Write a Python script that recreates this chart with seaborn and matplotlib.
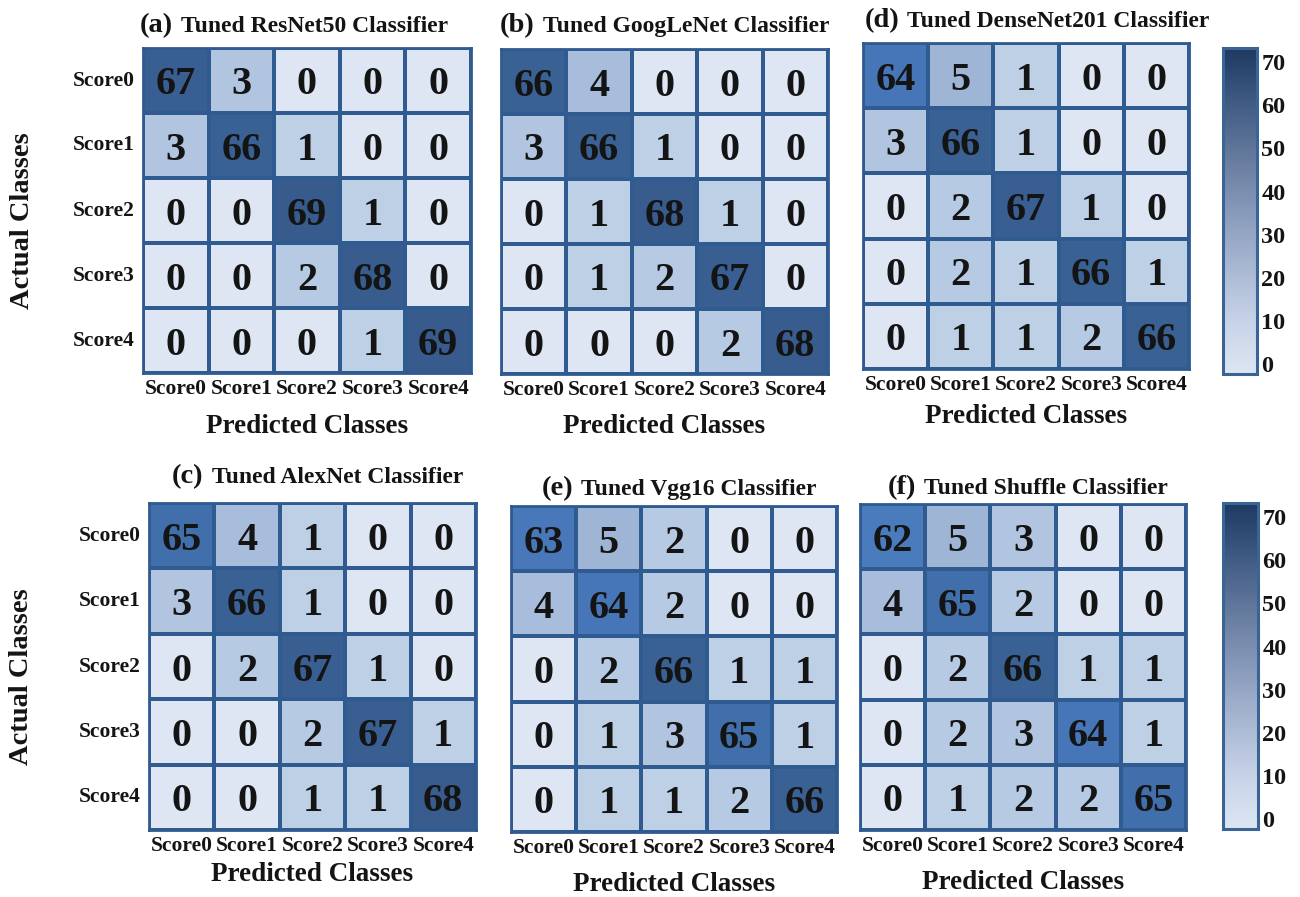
import numpy as np
import pandas as pd
import matplotlib
matplotlib.use("Agg")
import matplotlib.pyplot as plt
import seaborn as sns
from matplotlib.colors import LinearSegmentedColormap, Normalize
from matplotlib.cm import ScalarMappable
from matplotlib.offsetbox import TextArea, HPacker, AnchoredOffsetbox

# ---- data -------------------------------------------------------------
classes = ["Score0", "Score1", "Score2", "Score3", "Score4"]

resnet50 = [[67, 3, 0, 0, 0],
            [3, 66, 1, 0, 0],
            [0, 0, 69, 1, 0],
            [0, 0, 2, 68, 0],
            [0, 0, 0, 1, 69]]
googlenet = [[66, 4, 0, 0, 0],
             [3, 66, 1, 0, 0],
             [0, 1, 68, 1, 0],
             [0, 1, 2, 67, 0],
             [0, 0, 0, 2, 68]]
densenet201 = [[64, 5, 1, 0, 0],
               [3, 66, 1, 0, 0],
               [0, 2, 67, 1, 0],
               [0, 2, 1, 66, 1],
               [0, 1, 1, 2, 66]]
alexnet = [[65, 4, 1, 0, 0],
           [3, 66, 1, 0, 0],
           [0, 2, 67, 1, 0],
           [0, 0, 2, 67, 1],
           [0, 0, 1, 1, 68]]
vgg16 = [[63, 5, 2, 0, 0],
         [4, 64, 2, 0, 0],
         [0, 2, 66, 1, 1],
         [0, 1, 3, 65, 1],
         [0, 1, 1, 2, 66]]
shuffle = [[62, 5, 3, 0, 0],
           [4, 65, 2, 0, 0],
           [0, 2, 66, 1, 1],
           [0, 2, 3, 64, 1],
           [0, 1, 2, 2, 65]]

panel_letters = ["(a)", "(b)", "(d)", "(c)", "(e)", "(f)"]
model_names = ["Tuned ResNet50 Classifier", "Tuned GoogLeNet Classifier",
               "Tuned DenseNet201 Classifier", "Tuned AlexNet Classifier",
               "Tuned Vgg16 Classifier", "Tuned Shuffle Classifier"]
matrices = [resnet50, googlenet, densenet201, alexnet, vgg16, shuffle]
colorbar_ticks = [0, 10, 20, 30, 40, 50, 60, 70]

# ---- style ------------------------------------------------------------
sns.set_theme(style="white")
plt.rcParams["font.family"] = ["Liberation Serif", "DejaVu Serif"]
plt.rcParams["font.weight"] = "bold"
plt.rcParams["axes.labelweight"] = "bold"
TXT = "#141414"
GRID = "#2f5b91"

VMIN, VMAX = -2.3, 73.3


def value_cmap(nodes, name):
    span = VMAX - VMIN
    return LinearSegmentedColormap.from_list(
        name, [((v - VMIN) / span, c) for v, c in nodes])


# cell shading: counts near zero light, diagonal counts deep blue
cell_cmap = value_cmap([(VMIN, "#e0e8f3"), (0, "#dde6f2"), (1, "#bdcfe6"),
                        (2, "#b6c9e3"), (3, "#afc3df"), (4, "#a7bddb"),
                        (5, "#9cb3d5"), (30, "#7598c9"), (62, "#4a7bbd"),
                        (64.5, "#4575b6"), (65.5, "#3d68a0"), (66, "#3a6195"),
                        (69, "#375b8c"), (VMAX, "#2f5080")], "cells")
# smooth scale shown beside each row
bar_cmap = value_cmap([(VMIN, "#dde5f2"), (0, "#d9e2f0"), (10, "#c6d2e7"),
                       (20, "#aebcd6"), (30, "#95a6c4"), (40, "#7b8eb0"),
                       (50, "#5f7599"), (60, "#415c85"), (70, "#26426b"),
                       (VMAX, "#203a61")], "bar")
norm = Normalize(vmin=VMIN, vmax=VMAX)

W, H = 1300, 897
fig = plt.figure(figsize=(W / 100, H / 100), dpi=100)


def px_rect(x0, y0, x1, y1):
    return [x0 / W, 1 - y1 / H, (x1 - x0) / W, (y1 - y0) / H]


# layout: grid boxes in pixels, title shift/gap, x-label drop
boxes = [(143, 48, 471, 373), (501, 49, 828, 374), (863, 43, 1189, 369),
         (149, 503, 476, 830), (511, 506, 837, 832), (860, 504, 1186, 830)]
title_dx = [-13, 0, 11, 5, 5, 5]
title_gap = [10, 11, 10, 14, 5, 4]
xlabel_drop = [54, 53, 48, 45, 53, 53]
cbar_boxes = [(1223, 48, 1257, 374), (1223, 503, 1258, 829)]

for i, (mat, letter, name, box) in enumerate(zip(matrices, panel_letters,
                                                  model_names, boxes)):
    ax = fig.add_axes(px_rect(*box))
    df = pd.DataFrame(mat, index=classes, columns=classes)
    first_col = i in (0, 3)
    sns.heatmap(df, ax=ax, cmap=cell_cmap, vmin=VMIN, vmax=VMAX,
                annot=True, fmt="d",
                annot_kws=dict(fontsize=29, fontweight="bold", color=TXT,
                               va="center_baseline"),
                linewidths=1.7, linecolor=GRID, cbar=False,
                xticklabels=classes,
                yticklabels=classes if first_col else False)
    for sp in ax.spines.values():
        sp.set_visible(True)
        sp.set_color(GRID)
        sp.set_linewidth(2.0)
    ax.tick_params(axis="both", length=0)
    ax.tick_params(axis="x", pad=4, labelsize=15.5, labelcolor=TXT,
                   labelrotation=0)
    ax.tick_params(axis="y", pad=6, labelsize=15.5, labelcolor=TXT,
                   labelrotation=0)
    for lab in ax.get_xticklabels() + ax.get_yticklabels():
        lab.set_fontweight("bold")

    hpx = box[3] - box[1]
    wpx = box[2] - box[0]
    ax.set_xlabel("Predicted Classes", fontsize=19.5, color=TXT)
    ax.xaxis.set_label_coords(0.5, -(xlabel_drop[i] - 13) / hpx)
    if first_col:
        ax.set_ylabel("Actual Classes", fontsize=20.5, color=TXT)
        ax.yaxis.set_label_coords((22 - box[0]) / wpx, 0.47)
        ax.yaxis.label.set_va("center")
    else:
        ax.set_ylabel("")

    pack = HPacker(children=[
        TextArea(letter, textprops=dict(fontsize=20.5, fontweight="bold",
                                        color=TXT)),
        TextArea(name, textprops=dict(fontsize=17, fontweight="bold",
                                      color=TXT))],
        align="baseline", pad=0, sep=6)
    anchored = AnchoredOffsetbox(
        loc="lower center", child=pack, pad=0, borderpad=0, frameon=False,
        bbox_to_anchor=(0.5 + title_dx[i] / wpx, 1 + title_gap[i] / hpx),
        bbox_transform=ax.transAxes)
    ax.add_artist(anchored)

for cb in cbar_boxes:
    cax = fig.add_axes(px_rect(*cb))
    sm = ScalarMappable(norm=norm, cmap=bar_cmap)
    cbar = fig.colorbar(sm, cax=cax, ticks=colorbar_ticks)
    cbar.outline.set_edgecolor("#3a6496")
    cbar.outline.set_linewidth(2.2)
    cax.tick_params(length=0, pad=3, labelsize=17.5, labelcolor=TXT)
    for lab in cax.get_yticklabels():
        lab.set_fontweight("bold")

fig.savefig("out.png", dpi=100, facecolor="white")
